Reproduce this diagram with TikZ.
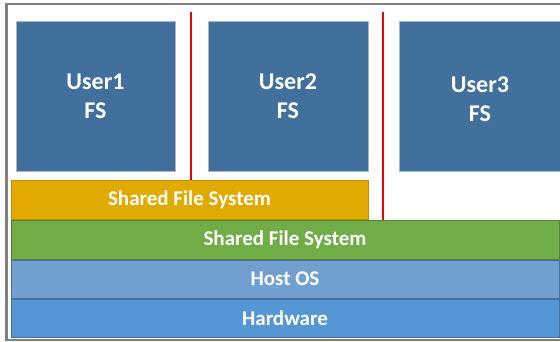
\documentclass[tikz,border=0pt]{standalone}
\usepackage{fontspec}
\setmainfont{Carlito}
\definecolor{userblue}{HTML}{41709C}
\definecolor{useredge}{HTML}{A9B6C4}
\definecolor{sharedyellow}{HTML}{E0AA00}
\definecolor{sharedyellowedge}{HTML}{BF9000}
\definecolor{sharedgreen}{HTML}{70AD47}
\definecolor{sharedgreenedge}{HTML}{548235}
\definecolor{hostblue}{HTML}{719FD0}
\definecolor{hwblue}{HTML}{5597D4}
\definecolor{layeredge}{HTML}{41719C}
\definecolor{framegray}{HTML}{808080}
\definecolor{dividerred}{RGB}{235,0,10}
\tikzset{
  userbox/.style={fill=userblue, draw=useredge, line width=0.8pt},
  usertext/.style={text=white, font=\fontsize{24}{29}\selectfont\bfseries, align=center},
  layertext/.style={text=white, font=\fontsize{21}{25}\selectfont\bfseries},
  divider/.style={draw=dividerred, line width=1.1pt},
}
\begin{document}
\begin{tikzpicture}[x=1pt, y=-1pt]
  \useasboundingbox (0,0) rectangle (560,342);
  \clip (0,0) rectangle (560,342);
  % outer frame
  \draw[framegray, line width=2.5pt] (6.5,4) rectangle (563,340);

  % per-user file systems
  \draw[userbox] (16,21) rectangle (175,171);
  \node[usertext] (u1) at (95.5,96) {User1\\FS};
  \draw[userbox] (208,21) rectangle (368,171);
  \node[usertext] (u2) at (288,96) {User2\\FS};
  \draw[userbox] (399,21) rectangle (570,171);
  \node[usertext] (u3) at (480,99) {User3\\FS};

  % separators between users
  \coordinate (s1t) at (191,12);
  \coordinate (s1b) at (191,180);
  \coordinate (s2t) at (383,12);
  \coordinate (s2b) at (383,220);
  \path[divider] (s1t) -- (s1b);
  \path[divider] (s2t) -- (s2b);

  % stacked layers
  \draw[fill=sharedyellow, draw=sharedyellowedge, line width=0.8pt] (11.5,180.5) rectangle (368,219);
  \node[layertext] (sfs1) at (189.5,200) {Shared File System};
  \draw[fill=sharedgreen, draw=sharedgreenedge, line width=0.8pt] (11.5,220) rectangle (559,259);
  \node[layertext] (sfs2) at (285,240) {Shared File System};
  \draw[fill=hostblue, draw=layeredge, line width=0.8pt] (11.5,260) rectangle (559,298);
  \node[layertext] (host) at (285,279) {Host OS};
  \draw[fill=hwblue, draw=layeredge, line width=0.8pt] (11.5,299) rectangle (559,337);
  \node[layertext] (hw) at (285,318.5) {Hardware};
\end{tikzpicture}
\end{document}
